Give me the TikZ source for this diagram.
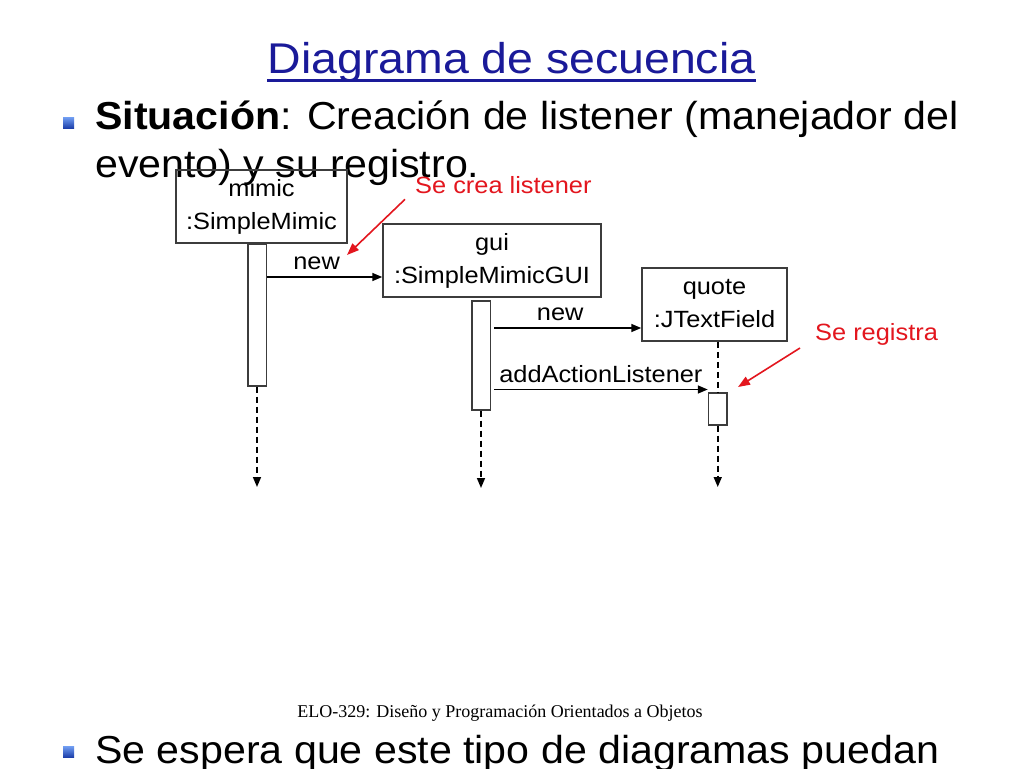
\documentclass[tikz,border=0pt]{standalone}
\usepackage{fontspec}
\setmainfont{Liberation Sans}
\newfontfamily\ttlfont[FakeStretch=1.08]{Liberation Sans}
\newfontfamily\bodyfont[FakeStretch=1.055]{Liberation Sans}
\newfontfamily\umlfont[FakeStretch=1.08]{Liberation Sans}
\newfontfamily\footfont{Liberation Serif}
\usetikzlibrary{%
  positioning
 ,calc
 ,arrows.meta
}
\definecolor{ttl}{HTML}{1A1A99}
\definecolor{note}{HTML}{E3161E}
\definecolor{edge}{HTML}{3C3C3C}
\definecolor{bulA}{HTML}{6E9BF0}
\definecolor{bulB}{HTML}{1A3CA8}
\tikzstyle{obj}=[draw=edge,line width=1.5pt,rectangle,inner sep=0pt,align=center,font=\umlfont\fontsize{23.5}{33}\selectfont]
\tikzstyle{act}=[draw=edge,line width=1.5pt,rectangle,inner sep=0pt,minimum width=18.5pt]
\tikzstyle{life}=[line width=1.6pt,dash pattern=on 6pt off 4pt,-{Triangle[length=10pt,width=8pt]}]
\tikzstyle{msg}=[line width=1.6pt,-{Triangle[length=10pt,width=8pt]}]
\tikzstyle{lbl}=[inner sep=0pt,font=\umlfont\fontsize{23.5}{28}\selectfont]
\tikzstyle{note}=[inner sep=0pt,text=note,font=\umlfont\fontsize{23.5}{28}\selectfont]
\tikzstyle{pointer}=[draw=note,line width=1.6pt,-{Triangle[length=12pt,width=9pt]}]
\tikzstyle{bul}=[rectangle,inner sep=0pt,minimum size=11pt,top color=bulA,bottom color=bulB]
\tikzstyle{body}=[inner sep=0pt,anchor=base west,font=\bodyfont\fontsize{39}{46}\selectfont]

\begin{document}
\begin{tikzpicture}[x=1pt,y=-1pt]
  \useasboundingbox[fill=white] (0,0) rectangle (1024,768);
  % title and text
  \node[anchor=base,inner sep=0pt,text=ttl,font=\ttlfont\fontsize{43}{46}\selectfont] (title) at (511.5,73) {Diagrama de secuencia};
  \draw[ttl,line width=2.5pt] (title.west |- 0,80.5) -- (title.east |- 0,80.5);
  \node[bul] (b1) at (68.5,123) {};
  \node[body] (l1) at (95,129) {\textbf{Situación}: Creación de listener (manejador del};
  \node[body] (l2) at (95,177) {evento) y su registro.};
  \node[bul] (b2) at (68.5,752) {};
  \node[body] (l3) at (95,763) {Se espera que este tipo de diagramas puedan};
  \node[anchor=base,inner sep=0pt,font=\footfont\fontsize{18}{20}\selectfont] (foot) at (500,717.7) {ELO-329: Diseño y Programación Orientados a Objetos};
% objects
  \node[obj,minimum width=171pt,minimum height=73pt] (mimic) at (261.5,206.5) {\strut mimic\\\strut :SimpleMimic};
  \node[obj,minimum width=218pt,minimum height=73pt] (gui) at (492,260.5) {\strut gui\\\strut :SimpleMimicGUI};
  \node[obj,minimum width=145pt,minimum height=73pt] (quote) at (714.5,304.5) {\strut quote\\\strut :JTextField};
  \node[act,minimum height=142pt,anchor=north] (mact) at (257,243) {};
  \node[act,minimum height=109pt,anchor=north] (gact) at (481,300) {};
  \node[act,minimum height=32pt,anchor=north] (qact) at (717.75,392) {};
  \coordinate (mend) at (257,487);
  \coordinate (gend) at (481,488);
  \coordinate (qend) at (717.75,487);
% lifelines
  \draw[life] (mact.south) -- (mend);
  \draw[life] (gact.south) -- (gend);
  \draw[line width=1.6pt,dash pattern=on 6pt off 4pt] (qact |- quote.south) -- (qact.north);
  \draw[life] (qact.south) -- (qend);
% messages
  \draw[msg] (mact.east |- 0,277) -- (gui.west |- 0,277) node[lbl,pos=0.43,above=6pt] (n1) {new};
  \draw[msg] ($(gact.east |- 0,328)+(3,0)$) -- (quote.west |- 0,328) node[lbl,pos=0.45,above=6pt] (n2) {new};
  \draw[msg] ($(gact.east |- 0,389.5)+(3,0)$) -- (qact.west |- 0,389.5) node[lbl,midway,above=6pt] (n3) {addActionListener};
% notes
  \node[note,anchor=base west] (crea) at (415,193.3) {Se crea listener};
  \node[note,anchor=base west] (reg) at (815,340) {Se registra};
  \coordinate (creatip) at (347,255);
  \coordinate (regtip) at (738,387);
  \draw[pointer] ([shift={(-10,6)}]crea.base west) -- (creatip);
  \draw[pointer] ([shift={(-15,8)}]reg.base west) -- (regtip);
\end{tikzpicture}
\end{document}
